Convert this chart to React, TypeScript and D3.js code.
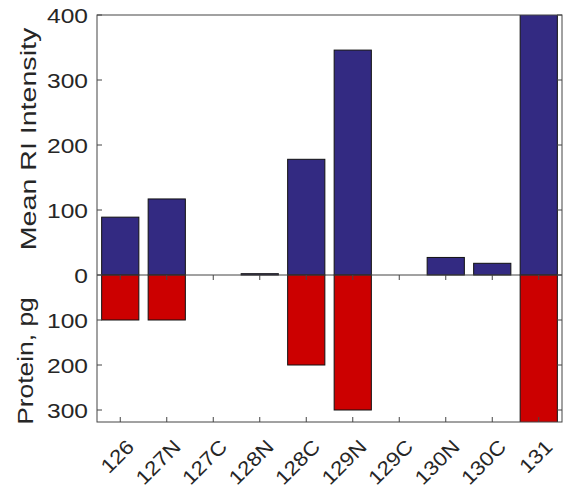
import React from 'react'
import * as d3 from 'd3'

const categories = ['126', '127N', '127C', '128N', '128C', '129N', '129C', '130N', '130C', '131']
const intensity = [89, 117, 0, 2, 178, 346, 0, 27, 18, 450]
const protein = [100, 100, 0, 0, 200, 300, 0, 0, 0, 400]
const topTicks = [0, 100, 200, 300, 400]
const bottomTicks = [100, 200, 300]

const W = 564
const H = 493
const left = 97
const right = 562
const top = 15
const zeroY = 275
const bottom = 422

const App: React.FC = () => {
  const x = d3.scaleBand<string>().domain(categories).range([left, right]).paddingInner(0.2).paddingOuter(0.1)
  const yTop = d3.scaleLinear().domain([0, 400]).range([zeroY, top])
  const yBot = d3.scaleLinear().domain([0, (bottom - zeroY) / 0.45]).range([zeroY, bottom])
  const font = 'Liberation Sans, Arial, sans-serif'
  const axisColor = '#444'
  const textColor = '#262626'
  const stretch = 1.17

  const yLabel = (t: number, y: number) => (
    <text transform={`translate(${left - 9},${y}) scale(${stretch},1)`} dy="0.36em" textAnchor="end"
      fontSize={21} fill={textColor}>{t}</text>
  )

  return (
    <svg width={W} height={H} style={{ position: 'absolute', left: 0, top: 0, background: '#fff' }} fontFamily={font}>
      <defs>
        <clipPath id="plot">
          <rect x={left} y={top} width={right - left} height={bottom - top} />
        </clipPath>
      </defs>
      <rect x={0} y={0} width={W} height={H} fill="#fff" />
      <g clipPath="url(#plot)">
        {categories.map((c, i) => intensity[i] > 0 && (
          <rect key={'t' + c} x={x(c)} y={yTop(intensity[i])} width={x.bandwidth()}
            height={zeroY - yTop(intensity[i])} fill="#332a82" stroke="#111" strokeWidth={1} />
        ))}
        {categories.map((c, i) => protein[i] > 0 && (
          <rect key={'b' + c} x={x(c)} y={zeroY} width={x.bandwidth()}
            height={yBot(protein[i]) - zeroY} fill="#cc0000" stroke="#111" strokeWidth={1} />
        ))}
      </g>
      {/* frame */}
      <rect x={left} y={top} width={right - left} height={bottom - top} fill="none" stroke={axisColor} strokeWidth={1} />
      <line x1={left} x2={right} y1={zeroY} y2={zeroY} stroke={axisColor} strokeWidth={1} />
      {/* y ticks, top panel */}
      {topTicks.map(t => (
        <g key={'yt' + t}>
          <line x1={left} x2={left + 5} y1={yTop(t)} y2={yTop(t)} stroke={axisColor} />
          <line x1={right - 5} x2={right} y1={yTop(t)} y2={yTop(t)} stroke={axisColor} />
          {yLabel(t, yTop(t))}
        </g>
      ))}
      {bottomTicks.map(t => (
        <g key={'yb' + t}>
          <line x1={left} x2={left + 5} y1={yBot(t)} y2={yBot(t)} stroke={axisColor} />
          <line x1={right - 5} x2={right} y1={yBot(t)} y2={yBot(t)} stroke={axisColor} />
          {yLabel(t, yBot(t))}
        </g>
      ))}
      {/* x ticks */}
      {categories.map(c => {
        const cx = (x(c) as number) + x.bandwidth() / 2
        return (
          <g key={'x' + c}>
            <line x1={cx} x2={cx} y1={zeroY} y2={zeroY + 5} stroke={axisColor} />
            <line x1={cx} x2={cx} y1={bottom - 5} y2={bottom} stroke={axisColor} />
            <text transform={`translate(${cx + 10},${bottom + 21}) rotate(-45) scale(1.12,1)`} textAnchor="end"
              dy="0.36em" fontSize={20} fill={textColor}>{c}</text>
          </g>
        )
      })}
      <text transform={`translate(36,139) rotate(-90) scale(1.3,1)`} textAnchor="middle" fontSize={22} fill={textColor}>Mean RI Intensity</text>
      <text transform={`translate(33,361) rotate(-90) scale(1.2,1)`} textAnchor="middle" fontSize={22} fill={textColor}>Protein, pg</text>
    </svg>
  )
}

export default App
